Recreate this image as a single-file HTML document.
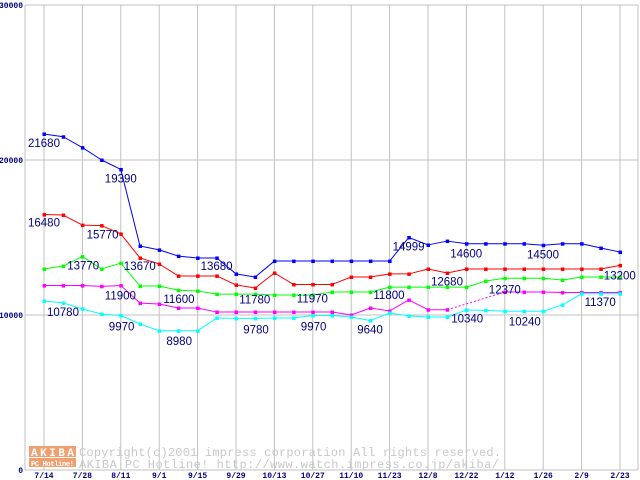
<!DOCTYPE html>
<html><head><meta charset="utf-8"><style>
body{margin:0;background:#fff;}
svg{display:block;font-family:"Liberation Mono","DejaVu Sans Mono",monospace;}
</style></head><body>
<svg id="chart" width="640" height="480" viewBox="0 0 640 480" xmlns="http://www.w3.org/2000/svg">
<rect x="0" y="0" width="640" height="480" fill="#fff"/>
<g id="grid"></g>
<g id="wm">
<rect x="29" y="446" width="47" height="11" fill="#f0a070"/>
<rect x="29" y="458" width="47" height="9" fill="#f0a070"/>
<text x="31" y="456" font-size="11" font-weight="bold" fill="#fff" textLength="43">AKIBA</text>
<text x="31" y="466" font-size="7" font-weight="bold" fill="#fff" textLength="43">PC Hotline!</text>
<text x="79" y="456" font-size="12" fill="#c8c8c8" textLength="422">Copyright(c)2001 impress corporation All rights reserved.</text>
<text x="79" y="468" font-size="12" fill="#c8c8c8" textLength="420">AKIBA PC Hotline!  http://www.watch.impress.co.jp/akiba/</text>
</g>
<g id="series"></g>
<g id="labels"></g>
</svg>
<script>
const categories=["7/14","7/28","8/11","9/1","9/15","9/29","10/13","10/27","11/10","11/23","12/8","12/22","1/12","1/26","2/9","2/23"];
const yTicks=[0,10000,20000,30000];
const blue=[21680,21500,20800,20000,19390,14450,14200,13800,13680,13680,12650,12450,13480,13480,13480,13480,13480,13480,13480,14999,14520,14770,14600,14600,14600,14600,14500,14600,14600,14320,14060];
const red=[16480,16450,15800,15770,15230,13680,13290,12520,12520,12520,11940,11740,12710,11970,11970,11970,12450,12450,12650,12650,12970,12710,12970,12970,12970,12970,12970,12970,12970,12970,13200];
const green=[12970,13160,13770,12970,13350,11870,11870,11600,11550,11350,11350,11350,11290,11290,11290,11480,11480,11480,11800,11800,11800,11800,11800,12190,12370,12370,12370,12260,12450,12450,12450];
const magenta=[11900,11900,11900,11850,11900,10770,10710,10450,10450,10190,10190,10190,10190,10190,10190,10190,10000,10450,10260,10970,10340,10340,null,null,11480,11480,11480,11450,11450,11450,11450];
const cyan=[10900,10780,10390,10060,9970,9420,8980,8980,8980,9810,9780,9780,9810,9810,9970,9970,9870,9640,10130,9940,9870,9870,10320,10300,10240,10240,10240,10650,11370,11370,11370];
const labelTexts=["21680","19390","16480","15770","13770","13670","13680","11900","11600","11780","11970","10780","9970","8980","9780","9970","14999","14600","14500","13200","12680","11800","12370","11370","10340","10240","9640"];
const labelIdx=[0,4,0,3,1,4,8,4,7,11,14,0,4,7,11,14,18,21,25,29,20,17,24,28,21,24,16];
const labelVals=[21680,19390,16480,15770,13770,13670,13680,11900,11600,11780,11970,10780,9970,8980,9780,9970,14999,14600,14500,13200,12680,11800,12370,11370,10340,10240,9640];
const NS="http://www.w3.org/2000/svg";
const X0=44,STEP=19.2,Y0=470,PX=0.0155;
function xs(i){return X0+i*STEP;}
function ys(v){return Y0-v*PX;}
function mk(t,a,p){const e=document.createElementNS(NS,t);for(const k in a)e.setAttribute(k,a[k]);p.appendChild(e);return e;}
const grid=document.getElementById('grid');
mk('line',{x1:25,y1:5,x2:25,y2:470,stroke:'#c0c0c0'},grid);
mk('line',{x1:638,y1:5,x2:638,y2:470,stroke:'#c0c0c0'},grid);
yTicks.forEach(v=>{
 const l=mk('line',{x1:25,x2:638,y1:ys(v),y2:ys(v),stroke:'#c0c0c0'},grid);
 
 
 const t=mk('text',{x:23,y:ys(v)+3,'text-anchor':'end','font-size':8,'font-weight':'bold',fill:'#000080'},grid);
 t.textContent=v;
 
 
});
categories.forEach((c,i)=>{
 const x=xs(i*2);
 const l=mk('line',{x1:x,x2:x,y1:5,y2:470,stroke:'#c0c0c0'},grid);
 
 
 const t=mk('text',{x:x,y:478,'text-anchor':'middle','font-size':8,'font-weight':'bold',fill:'#000080'},grid);
 t.textContent=c;
 
 
});
const sg=document.getElementById('series');
[[blue,'#0000ff','blue'],[red,'#ff0000','red'],[green,'#00ff00','green'],[magenta,'#ff00ff','magenta'],[cyan,'#00ffff','cyan']].forEach(([d,col,n])=>{
 const g=mk('g',{},sg);
 
 
 let prev=-1;
 d.forEach((v,i)=>{
  if(v===null)return;
  if(prev>=0){
   const a={x1:xs(prev),y1:ys(d[prev]),x2:xs(i),y2:ys(v),stroke:col,'stroke-width':1};
   if(i-prev>1)a['stroke-dasharray']='2,2';
   mk('line',a,g);
  }
  prev=i;
 });
 d.forEach((v,i)=>{
  if(v===null)return;
  const r=mk('rect',{x:xs(i)-1.5,y:ys(v)-1.5,width:3.5,height:3.5,fill:col},g);
  
  
 });
});
const lg=document.getElementById('labels');
const offs=[[-16,13],[-16,13],[-16,12],[-15,13],[4,13],[3,12],[3,12],[-16,14],[-15,13],[-16,16],[-16,18],[3,13],[-12,15],[-12,14],[-12,15],[-12,15],[3,13],[3,14],[3,13],[3,14],[3,12],[3,12],[-16,15],[3,12],[4,13],[4,14],[6,13]];
labelTexts.forEach((s,k)=>{
 const t=mk('text',{x:xs(labelIdx[k])+offs[k][0],y:ys(labelVals[k])+offs[k][1],'font-size':11.5,fill:'#000080','font-family':'"Liberation Sans",sans-serif'},lg);
 t.textContent=s;
 
 
});
</script>
</body></html>
